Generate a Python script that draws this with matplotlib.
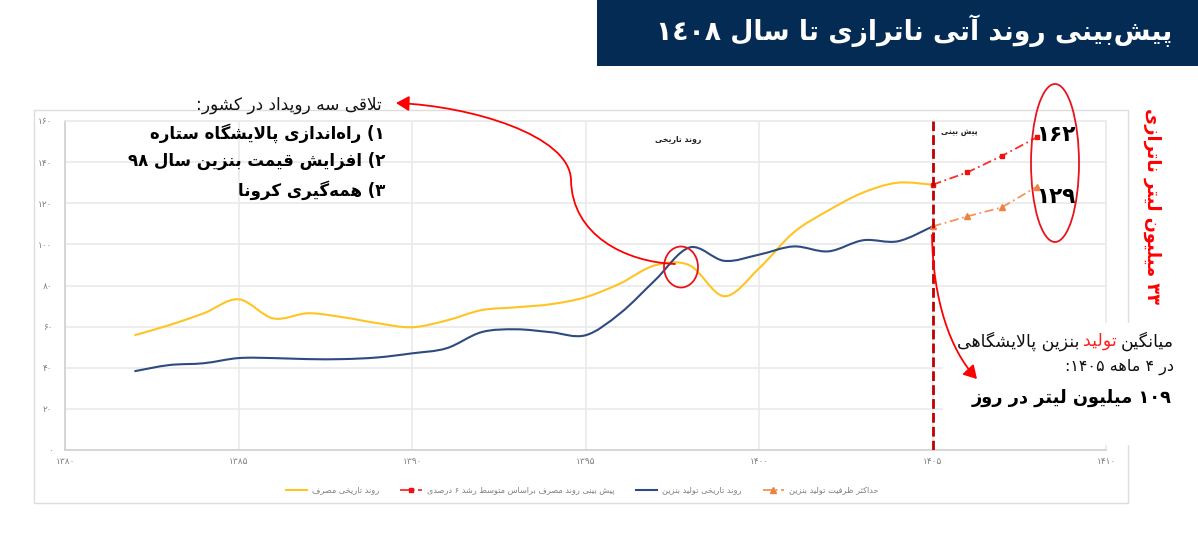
import numpy as np
import matplotlib
matplotlib.use("Agg")
import matplotlib.pyplot as plt
from matplotlib.path import Path
from matplotlib.patches import PathPatch, Rectangle, Ellipse, FancyArrowPatch
from matplotlib.lines import Line2D

# ---------- data ----------
years = list(range(1382, 1406))
consumption = [55.8, 60.7, 66.5, 73.3, 64.0, 66.5, 64.6, 61.7, 59.7, 63.0, 68.0, 69.4,
               70.9, 74.3, 81.0, 89.8, 89.8, 74.8, 88.3, 105.8, 116.5, 125.2, 130.0, 129.0]
production = [38.3, 41.3, 42.2, 44.7, 44.7, 44.2, 44.2, 45.0, 47.0, 49.5, 57.3, 58.7,
              57.3, 55.8, 66.5, 82.5, 98.5, 92.0, 95.0, 99.0, 96.6, 102.0, 101.5, 108.7]
forecast_years = [1405, 1406, 1407, 1408]
forecast_consumption = [129.0, 135.0, 143.0, 152.0]
forecast_capacity = [108.7, 113.6, 118.0, 128.0]
x_ticks = [1380, 1385, 1390, 1395, 1400, 1405, 1410]
y_ticks = [0, 20, 40, 60, 80, 100, 120, 140, 160]
legend_labels = ["روند تاریخی مصرف", "پیش بینی روند مصرف براساس متوسط رشد ۶ درصدی",
                 "روند تاریخی تولید بنزین", "حداکثر ظرفیت تولید بنزین"]

# ---------- minimal Arabic/Persian shaping (visual order) ----------
FOUR = {'ب': 0xFE8F, 'ت': 0xFE95, 'ث': 0xFE99, 'ج': 0xFE9D, 'ح': 0xFEA1, 'خ': 0xFEA5, 'س': 0xFEB1, 'ش': 0xFEB5,
        'ص': 0xFEB9, 'ض': 0xFEBD, 'ط': 0xFEC1, 'ظ': 0xFEC5, 'ع': 0xFEC9, 'غ': 0xFECD, 'ف': 0xFED1, 'ق': 0xFED5,
        'ل': 0xFEDD, 'م': 0xFEE1, 'ن': 0xFEE5, 'ه': 0xFEE9, 'پ': 0xFB56, 'چ': 0xFB7A, 'ک': 0xFB8E, 'گ': 0xFB92,
        'ی': 0xFBFC}
TWO = {'آ': 0xFE81, 'ا': 0xFE8D, 'د': 0xFEA9, 'ذ': 0xFEAB, 'ر': 0xFEAD, 'ز': 0xFEAF, 'ژ': 0xFB8A, 'و': 0xFEED}
LAMALEF = '\uFFF0'
MIRROR = {'(': ')', ')': '('}
DIGITS = '۰۱۲۳۴۵۶۷۸۹'
ALLDIGITS = DIGITS + '٤'


def fa(text):
    s = text.replace('لا', LAMALEF)
    out = []
    for i, c in enumerate(s):
        prev = s[i - 1] if i else ''
        nxt = s[i + 1] if i + 1 < len(s) else ''
        jp = prev in FOUR
        jn = nxt in FOUR or nxt in TWO or nxt == LAMALEF
        if c == LAMALEF:
            out.append(chr(0xFEFC if jp else 0xFEFB))
        elif c in TWO:
            out.append(chr(TWO[c] + (1 if jp else 0)))
        elif c in FOUR:
            base = FOUR[c]
            out.append(chr(base + (3 if jp and jn else 2 if jn else 1 if jp else 0)))
        elif c == '\u200c':
            continue
        else:
            out.append(MIRROR.get(c, c))
    out.reverse()
    res, i = [], 0
    while i < len(out):
        if out[i] in ALLDIGITS:
            j = i
            while j < len(out) and out[j] in ALLDIGITS:
                j += 1
            res.extend(out[i:j][::-1])
            i = j
        else:
            res.append(out[i])
            i += 1
    return ''.join(res)


def fadigits(n):
    return ''.join(DIGITS[int(d)] for d in str(n))


def smooth_path(xs, ys):
    """Excel-style smoothed line through the data values."""
    p = np.column_stack([xs, ys]).astype(float)
    verts = [p[0]]
    codes = [Path.MOVETO]
    for i in range(len(p) - 1):
        p0 = p[i - 1] if i else p[i]
        p3 = p[i + 2] if i + 2 < len(p) else p[i + 1]
        verts += [p[i] + (p[i + 1] - p0) / 6, p[i + 1] - (p3 - p[i]) / 6, p[i + 1]]
        codes += [Path.CURVE4] * 3
    return Path(verts, codes)


# ---------- figure ----------
W, H = 1198, 542
plt.rcParams['font.family'] = ['DejaVu Sans']
fig = plt.figure(figsize=(W / 100, H / 100), dpi=100, facecolor='white')

L, R, T, B = 65, 1106, 121, 450
ax = fig.add_axes([L / W, 1 - B / H, (R - L) / W, (B - T) / H], zorder=2)
ax.set_xlim(1380, 1410)
ax.set_ylim(0, 160)
ax.patch.set_alpha(0)
ax.set_xticks(x_ticks)
ax.set_yticks(y_ticks)
ax.set_xticklabels([fadigits(v) for v in x_ticks], fontsize=6.5, color='#7f7f7f')
ax.set_yticklabels([fadigits(v) for v in y_ticks], fontsize=6.5, color='#7f7f7f')
ax.tick_params(length=0)
ax.tick_params(axis='x', pad=5)
ax.tick_params(axis='y', pad=9)
ax.grid(True, color='#EAEAEA', lw=1.2)
ax.set_axisbelow(True)
for name, s in ax.spines.items():
    s.set_color('#D0D0D0' if name in ('left', 'bottom') else '#EAEAEA')
    s.set_linewidth(1.2)

ax.add_patch(PathPatch(smooth_path(years, consumption), fc='none', ec='#FFC423', lw=1.5, zorder=3))
ax.add_patch(PathPatch(smooth_path(years, production), fc='none', ec='#2F4A80', lw=1.5, zorder=3))
l_fc, = ax.plot(forecast_years, forecast_consumption, color='#FF2A2A', lw=1.3, ls=(0, (5, 2, 1, 2)),
                marker='s', ms=3.5, mfc='#EE1111', mec='#EE1111', zorder=3)
l_cap, = ax.plot(forecast_years, forecast_capacity, color='#F4935A', lw=1.3, ls=(0, (5, 2, 1, 2)),
                 marker='^', ms=4, mfc='#F08040', mec='#F08040', zorder=3)
ax.axvline(1405, color='#C00000', lw=2.0, ls=(0, (3.5, 1.5)), zorder=4)

handles = [Line2D([], [], color='#FFC423', lw=1.5), l_fc, Line2D([], [], color='#2F4A80', lw=1.5), l_cap]
leg = fig.legend(handles, [fa(t) for t in legend_labels], ncol=4, loc='center',
                 bbox_to_anchor=(582 / W, 1 - 490 / H), frameon=False, fontsize=5.9,
                 labelcolor='#7f7f7f', handlelength=2.6, columnspacing=2.6, handletextpad=0.6)

# ---------- overlay in pixel coordinates ----------
ov = fig.add_axes([0, 0, 1, 1], zorder=1)
ov.set_xlim(0, W)
ov.set_ylim(H, 0)
ov.axis('off')
ov.add_patch(Rectangle((34, 110), 1094, 393, fc='white', ec='#DDDDDD', lw=1))

top = fig.add_axes([0, 0, 1, 1], zorder=5)
top.set_xlim(0, W)
top.set_ylim(H, 0)
top.axis('off')
top.patch.set_alpha(0)
top.add_patch(Rectangle((597, 0), 601, 66, fc='#042B54', ec='none'))
top.text(1172, 31, fa('پیش‌بینی روند آتی ناترازی تا سال ۱٤۰۸'), color='white', fontsize=19.2, fontweight='bold',
         ha='right', va='center')
top.add_patch(Rectangle((943, 323), 255, 122, fc='white', ec='none'))

top.text(382, 105, fa('تلاقی سه رویداد در کشور:'), fontsize=12.2, color='#111111', ha='right', va='center')
for yy, t in zip([133, 161, 190], ['۱) راه‌اندازی پالایشگاه ستاره', '۲) افزایش قیمت بنزین سال ۹۸', '۳) همه‌گیری کرونا']):
    top.text(385, yy, fa(t), fontsize=12, fontweight='bold', color='black', ha='right', va='center')
top.text(678, 139, fa('روند تاریخی'), fontsize=5.6, fontweight='bold', color='#222222', ha='center', va='center')
top.text(959, 132, fa('پیش بینی'), fontsize=5.5, fontweight='bold', color='#222222', ha='center', va='center')
top.text(1056, 135, fa('۱۶۲'), fontsize=15.5, fontweight='bold', color='black', ha='center', va='center')
top.text(1056, 197, fa('۱۲۹'), fontsize=15.5, fontweight='bold', color='black', ha='center', va='center')
top.text(1152, 206, fa('۳۳ میلیون لیتر ناترازی'), fontsize=12.8, fontweight='bold', color='#FF0000', rotation=-90,
         ha='center', va='center')

top.add_patch(Ellipse((1055, 163), 48, 158, fc='none', ec='#E8141C', lw=1.3))
top.add_patch(Ellipse((681, 267), 34, 41, fc='none', ec='#E8141C', lw=1.3))

# curved arrows
arr1 = Path([(675, 264), (625, 262), (572, 235), (571, 180), (570, 135), (470, 106), (396, 103)],
            [Path.MOVETO] + [Path.CURVE4] * 6)
top.add_patch(FancyArrowPatch(path=arr1, arrowstyle='-|>,head_length=6,head_width=3.5', color='#FF0000', lw=1.3,
                              mutation_scale=1.3, shrinkA=0, shrinkB=0))
arr2 = Path([(932, 235), (933, 300), (950, 350), (977, 379)], [Path.MOVETO] + [Path.CURVE4] * 3)
top.add_patch(FancyArrowPatch(path=arr2, arrowstyle='-|>,head_length=6,head_width=3.5', color='#FF0000', lw=1.3,
                              mutation_scale=1.3, shrinkA=0, shrinkB=0))

# panel text with the red word
r = fig.canvas.get_renderer()
xr = 1174
FS = 12.5
for word, col in [('میانگین', '#111111'), ('تولید', '#FF2020'), ('بنزین پالایشگاهی', '#111111')]:
    tx = top.text(xr, 341, fa(word), fontsize=FS, color=col, ha='right', va='center')
    xr -= tx.get_window_extent(r).width + 4
top.text(1174, 367, fa('در ۴ ماهه ۱۴۰۵:'), fontsize=11.5, color='#111111', ha='right', va='center')
top.text(1172, 398, fa('۱۰۹ میلیون لیتر در روز'), fontsize=12.8, fontweight='bold', color='black', ha='right', va='center')

fig.savefig('out.png', dpi=100, facecolor='white')
